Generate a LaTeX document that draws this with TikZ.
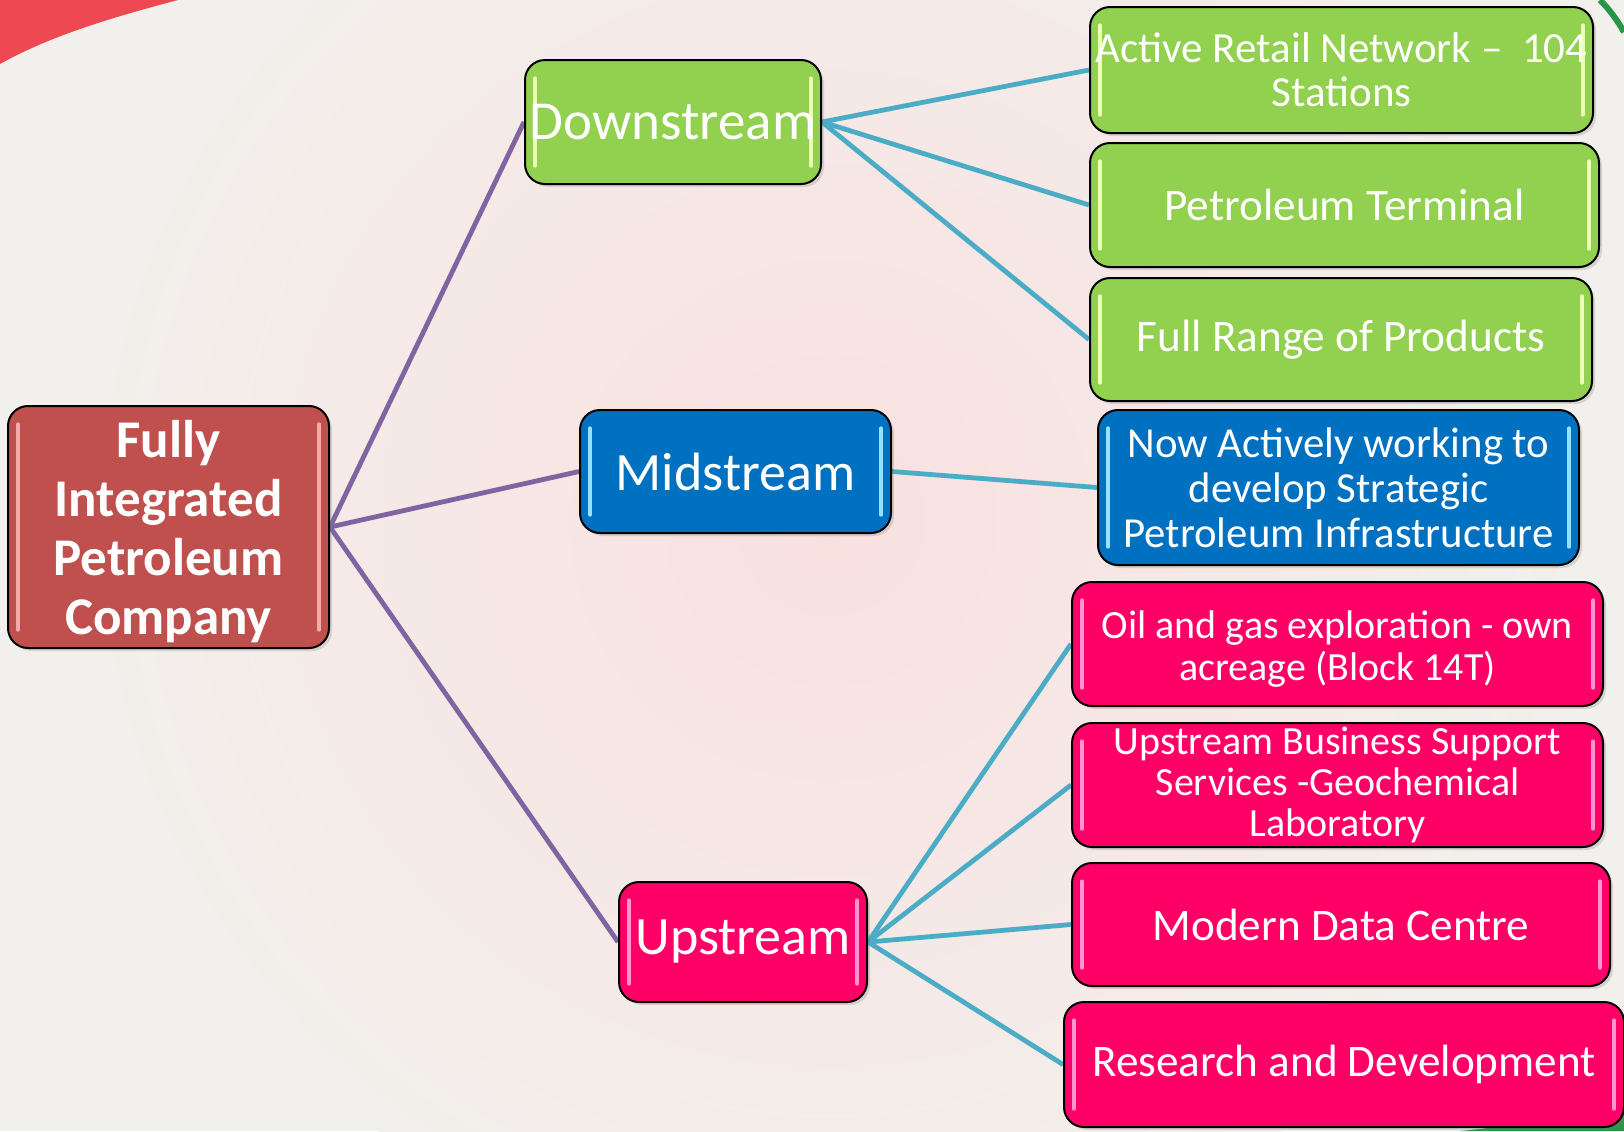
\documentclass[tikz,border=0pt]{standalone}
\usepackage{fontspec}
\setmainfont{Carlito}
\usetikzlibrary{shadows,backgrounds}
\definecolor{bgc}{RGB}{242,240,236}
\definecolor{pinkc}{RGB}{249,224,224}
\definecolor{swred}{RGB}{238,72,82}
\definecolor{swgreen}{RGB}{40,150,70}
\definecolor{rootc}{RGB}{192,80,77}
\definecolor{rootgl}{RGB}{245,170,170}
\definecolor{greenc}{RGB}{146,208,80}
\definecolor{greengl}{RGB}{236,255,180}
\definecolor{bluec}{RGB}{0,112,192}
\definecolor{bluegl}{RGB}{150,225,255}
\definecolor{pinkbox}{RGB}{255,0,102}
\definecolor{pinkgl}{RGB}{255,150,210}
\definecolor{purpline}{RGB}{128,100,162}
\definecolor{tealline}{RGB}{75,172,198}
\newcommand{\mytightlines}{\lineskiplimit=-20pt\relax}
\newcommand{\mylowered}[2]{\raisebox{-#1}[\height][\depth]{\begin{tabular}{@{}c@{}}#2\end{tabular}}}
\begin{document}
\begin{tikzpicture}[x=0.5pt,y=-0.5pt,
  gloss/.style={path picture={
    \draw[#1, line width=1.6pt, line cap=round]
      ([xshift=5pt,yshift=-9pt]path picture bounding box.north west) -- ([xshift=5pt,yshift=9pt]path picture bounding box.south west)
      ([xshift=-5pt,yshift=-9pt]path picture bounding box.north east) -- ([xshift=-5pt,yshift=9pt]path picture bounding box.south east);
  }},
  box/.style={draw=black, line width=1pt, rounded corners=10pt, text=white, align=center, inner sep=0pt,
    drop shadow={opacity=0.25, shadow xshift=1.5pt, shadow yshift=-1.5pt}},
  rootbox/.style={box, fill=rootc, gloss=rootgl, font=\fontsize{26.5}{29.5}\selectfont\bfseries},
  midbox/.style={box, font=\fontsize{27}{31}\selectfont},
  leafbox/.style={box, font=\fontsize{22.6}{22}\selectfont\mytightlines},
  gbox/.style={fill=greenc, gloss=greengl},
  bbox/.style={fill=bluec, gloss=bluegl},
  pbox/.style={fill=pinkbox, gloss=pinkgl},
  rootlink/.style={draw=purpline, line width=2.4pt},
  leaflink/.style={draw=tealline, line width=2.4pt}
]
\useasboundingbox (0,0) rectangle (1624,1131);

% nodes
\node[rootbox, minimum width=160.5pt, minimum height=121pt] (root) at (168.5,527) {\mylowered{3.6pt}{Fully\\Integrated\\Petroleum\\Company}};

\node[midbox, gbox, minimum width=148pt, minimum height=62pt, font=\fontsize{27.5}{31}\selectfont] (down) at (673,122) {Downstream};
\node[midbox, bbox, minimum width=155.5pt, minimum height=61.5pt] (mid) at (735.5,471.5) {Midstream};
\node[midbox, pbox, minimum width=124pt, minimum height=60pt] (up) at (743,942) {Upstream};

\node[leafbox, gbox, minimum width=251.5pt, minimum height=63pt, font=\fontsize{21.5}{22}\selectfont\mytightlines] (retail) at (1341.5,70) {Active Retail Network – \ 104\\Stations};
\node[leafbox, gbox, minimum width=254.5pt, minimum height=62pt] (term) at (1344.5,205) {Petroleum Terminal};
\node[leafbox, gbox, minimum width=251pt, minimum height=61.5pt] (range) at (1341,339.5) {Full Range of Products};

\node[leafbox, bbox, minimum width=240.5pt, minimum height=77.5pt, font=\fontsize{21.4}{22.5}\selectfont\mytightlines] (now) at (1338.5,487.5) {Now Actively working to\\develop Strategic\\Petroleum Infrastructure};

\node[leafbox, pbox, minimum width=265.5pt, minimum height=62pt, font=\fontsize{20}{21}\selectfont\mytightlines] (oil) at (1337.5,644) {\mylowered{3.6pt}{Oil and gas exploration - own\\acreage (Block 14T)}};
\node[leafbox, pbox, minimum width=265.5pt, minimum height=62pt, font=\fontsize{20}{20.7}\selectfont\mytightlines] (ubs) at (1337.5,785) {Upstream Business Support\\Services -Geochemical\\Laboratory};
\node[leafbox, pbox, minimum width=269pt, minimum height=61.5pt] (data) at (1341,924.5) {Modern Data Centre};
\node[leafbox, pbox, minimum width=280pt, minimum height=62.5pt] (rnd) at (1344,1064.5) {Research and Development};

\begin{pgfonlayer}{background}
  \fill[bgc] (0,0) rectangle (1624,1131);
  \shade[inner color=pinkc, outer color=bgc] (830,520) circle [radius=380pt];
  % decorative swooshes
  \fill[swred] (0,0) -- (178,0) .. controls (110,18) and (50,36) .. (0,64) -- cycle;
  \draw[swgreen, line width=3pt] (1600,0) .. controls (1610,10) and (1617,20) .. (1624,32);
  \fill[swgreen] (1460,1131) .. controls (1530,1124) and (1580,1116) .. (1624,1100) -- (1624,1131) -- cycle;
  % connectors
  \draw[rootlink] (root.east) -- (down.west);
  \draw[rootlink] (root.east) -- (mid.west);
  \draw[rootlink] (root.east) -- (up.west);
  \draw[leaflink] (down.east) -- (retail.west);
  \draw[leaflink] (down.east) -- (term.west);
  \draw[leaflink] (down.east) -- (range.west);
  \draw[leaflink] (mid.east) -- (now.west);
  \draw[leaflink] (up.east) -- (oil.west);
  \draw[leaflink] (up.east) -- (ubs.west);
  \draw[leaflink] (up.east) -- (data.west);
  \draw[leaflink] (up.east) -- (rnd.west);
\end{pgfonlayer}
\end{tikzpicture}
\end{document}
